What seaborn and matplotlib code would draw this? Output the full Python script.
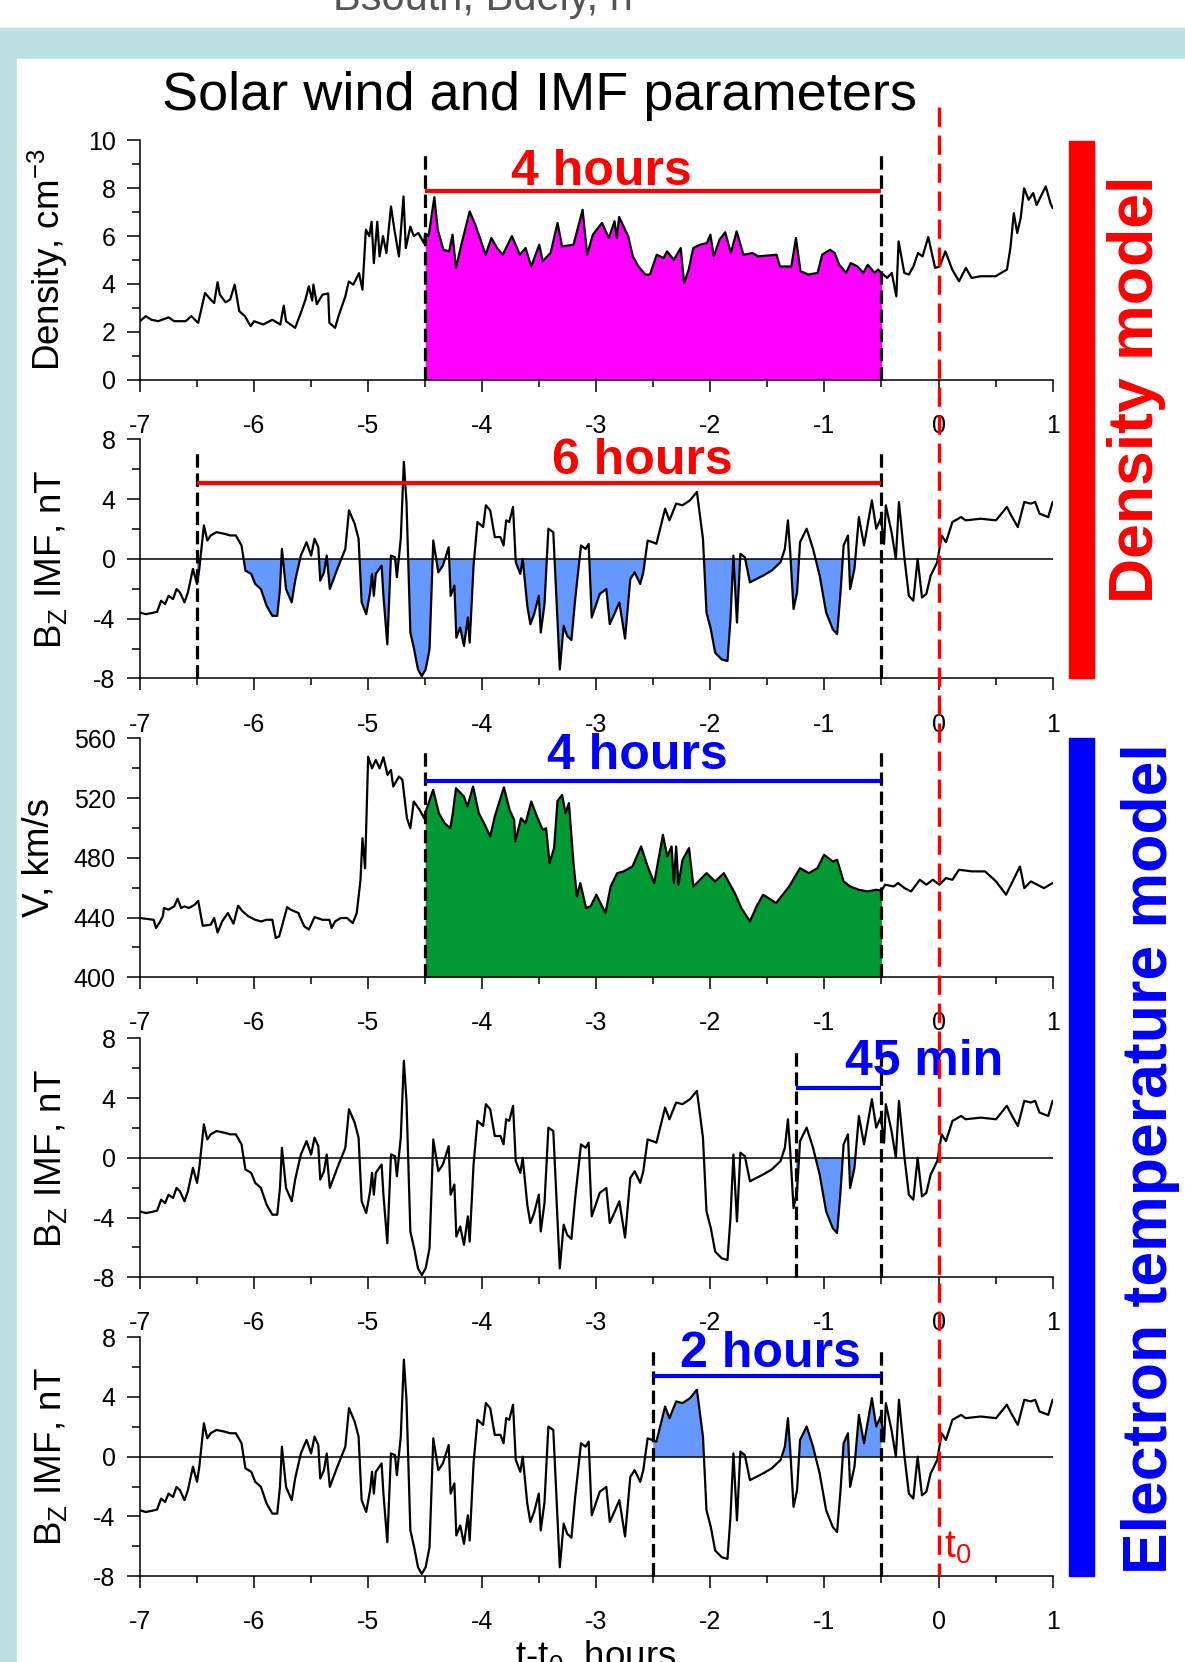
import numpy as np
import pandas as pd
import matplotlib
matplotlib.use("Agg")
import matplotlib.pyplot as plt
import seaborn as sns
from matplotlib.patches import Rectangle
from matplotlib.lines import Line2D
import matplotlib.transforms as mtransforms

# ---------------- data (hours relative to t0) ----------------
dens_t = [-7.00, -6.95, -6.90, -6.84, -6.75, -6.70, -6.60, -6.55, -6.49, -6.46, -6.43, -6.38, -6.35, -6.32,
          -6.30, -6.25, -6.21, -6.17, -6.13, -6.08, -6.03, -6.00, -5.92, -5.84, -5.77, -5.74, -5.72, -5.64,
          -5.59, -5.55, -5.52, -5.49, -5.48, -5.45, -5.40, -5.35, -5.34, -5.29, -5.26, -5.20, -5.17, -5.13,
          -5.08, -5.05, -5.02, -4.99, -4.97, -4.95, -4.92, -4.90, -4.87, -4.84, -4.80, -4.77, -4.73, -4.69,
          -4.67, -4.63, -4.60, -4.56, -4.51, -4.50, -4.47, -4.42, -4.39, -4.34, -4.29, -4.26, -4.23, -4.18,
          -4.11, -4.06, -3.97, -3.92, -3.87, -3.82, -3.74, -3.67, -3.62, -3.57, -3.50, -3.47, -3.40, -3.34,
          -3.30, -3.20, -3.15, -3.12, -3.08, -3.03, -2.95, -2.89, -2.84, -2.82, -2.80, -2.72, -2.68, -2.63,
          -2.57, -2.53, -2.47, -2.41, -2.38, -2.32, -2.26, -2.23, -2.19, -2.15, -2.09, -2.03, -2.00, -1.97,
          -1.92, -1.87, -1.82, -1.77, -1.71, -1.63, -1.58, -1.42, -1.39, -1.29, -1.25, -1.21, -1.14, -1.06,
          -1.02, -0.95, -0.91, -0.87, -0.81, -0.77, -0.71, -0.66, -0.62, -0.56, -0.53, -0.50, -0.45, -0.41,
          -0.37, -0.35, -0.30, -0.26, -0.22, -0.18, -0.14, -0.09, -0.03, 0.01, 0.06, 0.12, 0.18, 0.24,
          0.29, 0.37, 0.50, 0.60, 0.63, 0.66, 0.69, 0.72, 0.75, 0.79, 0.83, 0.86, 0.94, 0.98, 1.00]
dens_v = [2.44, 2.65, 2.50, 2.44, 2.60, 2.44, 2.44, 2.65, 2.37, 3.00, 3.62, 3.34, 3.20, 4.07,
          3.55, 3.23, 3.34, 3.97, 2.86, 2.65, 2.23, 2.44, 2.30, 2.50, 2.30, 3.09, 2.44, 2.16,
          2.79, 3.34, 3.90, 3.30, 3.97, 3.15, 3.55, 3.60, 2.37, 2.16, 2.65, 3.48, 4.10, 3.97,
          4.45, 3.76, 6.27, 6.00, 6.60, 4.87, 6.60, 5.15, 6.00, 5.29, 7.24, 6.27, 5.15, 7.66,
          5.50, 6.40, 6.00, 6.13, 5.70, 6.10, 6.00, 7.63, 6.27, 5.43, 5.36, 6.06, 4.67, 5.70,
          7.03, 6.47, 5.22, 5.92, 5.50, 5.22, 6.00, 5.22, 5.50, 4.73, 5.64, 4.95, 5.30, 6.55,
          5.57, 5.64, 6.55, 7.10, 5.22, 6.06, 6.55, 5.92, 6.62, 5.92, 6.80, 5.99, 5.15, 4.73,
          4.39, 4.39, 5.22, 5.08, 5.36, 5.01, 5.50, 4.04, 4.60, 5.50, 5.64, 5.71, 6.06, 5.15,
          5.85, 6.16, 5.29, 6.20, 5.22, 5.29, 5.15, 5.22, 4.73, 4.73, 5.92, 4.53, 4.39, 4.46,
          5.22, 5.43, 5.29, 4.80, 4.46, 4.87, 4.73, 4.46, 4.80, 4.46, 4.60, 4.46, 4.25, 4.46,
          3.48, 5.78, 4.46, 4.39, 4.73, 5.29, 5.15, 5.96, 4.67, 4.73, 5.36, 4.60, 4.11, 4.67,
          4.25, 4.32, 4.32, 4.60, 5.50, 6.96, 6.13, 6.75, 8.00, 7.52, 7.80, 7.30, 8.08, 7.40, 7.17]

vel_t = [-7.00, -6.88, -6.86, -6.83, -6.80, -6.79, -6.75, -6.70, -6.67, -6.64, -6.61, -6.57, -6.52, -6.49,
         -6.45, -6.38, -6.35, -6.32, -6.28, -6.23, -6.18, -6.14, -6.10, -6.05, -5.99, -5.94, -5.89, -5.84,
         -5.81, -5.78, -5.74, -5.71, -5.68, -5.61, -5.60, -5.56, -5.52, -5.47, -5.40, -5.34, -5.32, -5.29,
         -5.24, -5.185, -5.135, -5.10, -5.067, -5.05, -5.027, -5.00, -4.966, -4.933, -4.90, -4.866, -4.83,
         -4.80, -4.78, -4.73, -4.70, -4.66, -4.63, -4.60, -4.55, -4.51, -4.50, -4.43, -4.38, -4.33, -4.28,
         -4.26, -4.23, -4.16, -4.13, -4.08, -4.03, -3.97, -3.93, -3.89, -3.81, -3.76, -3.72, -3.71, -3.66,
         -3.62, -3.57, -3.52, -3.47, -3.44, -3.41, -3.37, -3.34, -3.30, -3.27, -3.24, -3.20, -3.17, -3.14,
         -3.09, -3.05, -3.00, -2.92, -2.874, -2.817, -2.76, -2.683, -2.607, -2.55, -2.492, -2.416, -2.378,
         -2.34, -2.32, -2.30, -2.28, -2.244, -2.187, -2.149, -2.09, -2.034, -1.958, -1.882, -1.786, -1.729,
         -1.653, -1.595, -1.538, -1.424, -1.309, -1.214, -1.137, -1.061, -1.004, -0.927, -0.889, -0.832,
         -0.775, -0.698, -0.622, -0.546, -0.50, -0.469, -0.393, -0.355, -0.298, -0.24, -0.164, -0.107,
         -0.05, 0.008, 0.065, 0.122, 0.179, 0.294, 0.408, 0.504, 0.592, 0.656, 0.714, 0.752, 0.809,
         0.866, 0.924, 1.00]
vel_v = [439.7, 438.5, 433.0, 436.5, 440.8, 446.4, 445.3, 447.5, 452.6, 446.4, 447.5, 446.4, 448.6, 451.2,
         434.5, 435.2, 439.7, 430.0, 437.4, 443.0, 435.9, 447.9, 444.1, 440.8, 438.5, 437.4, 438.5, 438.5,
         426.3, 427.4, 438.5, 447.0, 445.3, 443.0, 440.8, 434.1, 431.9, 440.3, 438.5, 438.5, 433.0, 437.4,
         439.7, 439.7, 436.3, 443.0, 465.3, 493.1, 473.0, 547.7, 539.9, 545.5, 539.9, 547.3, 535.5,
         538.8, 527.7, 534.4, 532.2, 506.5, 499.8, 517.7, 512.2, 506.5, 509.9, 525.5, 509.9, 503.2, 499.8,
         508.7, 526.6, 521.0, 514.3, 527.7, 509.9, 501.0, 494.3, 507.6, 527.2, 512.1, 505.4, 490.9, 506.5,
         503.2, 517.7, 507.6, 498.7, 499.8, 476.4, 486.5, 518.1, 522.1, 509.9, 516.6, 476.4, 454.2, 463.1,
         446.4, 447.5, 455.3, 443.0, 460.8, 469.7, 470.9, 474.2, 487.6, 474.2, 463.1, 495.4, 480.9,
         487.6, 463.1, 487.6, 461.9, 478.7, 486.5, 460.8, 465.3, 469.7, 464.2, 469.7, 456.4, 446.4,
         437.4, 447.5, 455.3, 449.7, 460.8, 473.1, 469.7, 473.1, 482.0, 477.5, 478.7, 464.2,
         460.8, 458.6, 457.5, 458.6, 458.0, 462.0, 460.8, 463.1, 459.7, 457.5, 465.3, 462.0,
         465.3, 462.0, 466.4, 465.3, 472.0, 470.9, 470.9, 464.2, 455.3, 465.3, 474.2, 459.7, 464.2,
         462.0, 459.7, 463.1]

bz_t = [-7.00, -6.95, -6.90, -6.85, -6.815, -6.78, -6.75, -6.71, -6.68, -6.65, -6.61, -6.58, -6.536, -6.50,
        -6.48, -6.44, -6.41, -6.38, -6.33, -6.26, -6.21, -6.16, -6.11, -6.076, -6.025, -5.99, -5.94, -5.89,
        -5.84, -5.797, -5.773, -5.756, -5.72, -5.67, -5.64, -5.59, -5.54, -5.50, -5.47, -5.437, -5.42,
        -5.387, -5.363, -5.336, -5.27, -5.235, -5.20, -5.168, -5.118, -5.084, -5.057, -5.017, -4.983,
        -4.966, -4.95, -4.933, -4.882, -4.866, -4.832, -4.80, -4.765, -4.748, -4.714, -4.687, -4.664,
        -4.63, -4.597, -4.563, -4.53, -4.496, -4.462, -4.429, -4.385, -4.345, -4.294, -4.277, -4.244,
        -4.227, -4.193, -4.16, -4.126, -4.11, -4.076, -4.042, -3.992, -3.968, -3.93, -3.89, -3.84, -3.813,
        -3.79, -3.763, -3.73, -3.706, -3.666, -3.645, -3.605, -3.578, -3.545, -3.504, -3.487, -3.454,
        -3.42, -3.377, -3.32, -3.286, -3.255, -3.218, -3.185, -3.134, -3.094, -3.067, -3.04, -2.97,
        -2.912, -2.882, -2.836, -2.798, -2.748, -2.702, -2.664, -2.615, -2.588, -2.55, -2.50, -2.473,
        -2.397, -2.359, -2.30, -2.244, -2.179, -2.118, -2.065, -2.034, -1.996, -1.958, -1.90, -1.85,
        -1.824, -1.798, -1.767, -1.737, -1.698, -1.653, -1.538, -1.462, -1.385, -1.347, -1.32, -1.30,
        -1.271, -1.25, -1.24, -1.214, -1.156, -1.10, -1.042, -0.985, -0.927, -0.889, -0.859, -0.832,
        -0.794, -0.775, -0.737, -0.698, -0.653, -0.584, -0.546, -0.508, -0.50, -0.477, -0.462, -0.412,
        -0.374, -0.347, -0.298, -0.26, -0.221, -0.183, -0.145, -0.107, -0.069, -0.011, 0.027, 0.065,
        0.122, 0.198, 0.237, 0.37, 0.504, 0.599, 0.637, 0.695, 0.752, 0.809, 0.847, 0.885, 0.962, 1.00]
bz_v = [-3.59, -3.70, -3.63, -3.54, -2.80, -3.03, -2.47, -2.69, -2.02, -2.24, -2.91, -2.24, -0.67, -1.68,
        -0.67, 2.24, 1.23, 1.57, 1.79, 1.68, 1.57, 1.57, 0.90, -0.78, -1.01, -1.68, -2.02, -3.14,
        -3.81, -3.81, -2.02, 0.67, -2.02, -2.91, -1.46, 0.22, 1.12, 0.22, 1.35, 0.78, -1.46,
        -0.90, 0.22, -2.02, -0.67, 0.00, 0.67, 3.25, 2.35, 1.35, -2.91, -3.70, -2.24,
        -1.01, -2.47, -1.01, -0.45, -2.47, -5.72, 0.22, 0.11, -1.23, 1.35, 6.50, 3.81,
        -4.93, -6.05, -7.40, -7.85, -7.40, -6.05, 1.23, -0.90, -0.45, 0.78, -2.47, -1.79,
        -5.27, -4.60, -5.83, -3.92, -5.61, -0.45, 2.47, 2.13, 3.59, 3.25, 1.46, 1.46, 0.90,
        2.58, 2.47, 3.48, -0.22, -1.01, 0.00, -3.14, -4.37, -3.70, -2.47, -4.93, -3.03,
        2.02, 1.79, -7.40, -4.48, -5.16, -5.43, -2.69, 0.90, 0.67, 1.01, -3.92, -2.35,
        -2.02, -4.37, -3.59, -2.91, -5.34, -1.35, -0.90, -1.68, -0.90, 1.23, 1.10, 1.01,
        3.36, 2.58, 3.70, 3.59, 3.92, 4.48, 1.35, -3.59, -4.71, -6.28, -6.73, -6.84,
        -4.04, 0.22, -4.26, 0.34, 0.11, -1.57, -1.12, -0.78, -0.22, 0.67, 2.58, 0.45,
        -3.36, -2.60, -2.24, 1.12, 2.02, 0.67, -1.12, -3.59, -4.71, -5.04, -2.24, 0.90,
        1.57, -2.02, -0.67, 2.80, 0.90, 3.92, 2.02, 2.69, 2.40, 1.01, 3.59, 1.79,
        0.00, 3.81, 0.00, -2.47, -2.80, 0.00, -2.58, -2.35, -1.12, -0.22, 1.57, 1.12,
        2.47, 2.80, 2.58, 2.69, 2.58, 3.48, 2.91, 2.13, 3.81, 3.70, 3.81, 3.03, 2.80, 3.81]

x_major = [-7, -6, -5, -4, -3, -2, -1, 0, 1]
x_minor = [-6.5, -5.5, -4.5, -3.5, -2.5, -1.5, -0.5, 0.5]
x_labels = ["-7", "-6", "-5", "-4", "-3", "-2", "-1", "0", "1"]
dens_ticks = [0, 2, 4, 6, 8, 10]
dens_minor = [1, 3, 5, 7, 9]
bz_ticks = [-8, -4, 0, 4, 8]
bz_minor = [-6, -2, 2, 6]
vel_ticks = [400, 440, 480, 520, 560]
vel_minor = [420, 460, 500, 540]

# windows (start, end) in hours
dens_win = (-4.5, -0.5)
bz6_win = (-6.5, -0.5)
vel_win = (-4.5, -0.5)
bz45_win = (-1.25, -0.5)
bz2_win = (-2.5, -0.5)

# ---------------- style ----------------
sns.set_theme(style="ticks")
plt.rcParams["font.family"] = ["Liberation Sans", "DejaVu Sans"]
plt.rcParams["mathtext.fontset"] = "custom"
plt.rcParams["mathtext.rm"] = "Liberation Sans"
plt.rcParams["mathtext.it"] = "Liberation Sans:italic"
plt.rcParams["mathtext.bf"] = "Liberation Sans:bold"
plt.rcParams["axes.unicode_minus"] = False
for k in ["xtick.color", "ytick.color", "axes.edgecolor", "text.color", "axes.labelcolor"]:
    plt.rcParams[k] = "black"

RED = "#ff0000"
BLUE = "#0000ff"
MAGENTA = "#ff00ff"
GREEN = "#009933"
LBLUE = "#6699ff"
BG = "#bde0e3"

W, H = 1185, 1662
fig = plt.figure(figsize=(W / 100, H / 100), dpi=100)
fig.patch.set_facecolor("white")

# background frame
fig.add_artist(Rectangle((0, 0), 1, 1 - 28 / H, transform=fig.transFigure, color=BG, zorder=-20))
fig.add_artist(Rectangle((17 / W, 0), 1 - 17 / W, 1 - 59 / H, transform=fig.transFigure,
                         color="white", zorder=-19))
fig.text(333 / W, 1 - 10 / H, "Bsouth, Bdely, h", fontsize=30, color="#555555",
         ha="left", va="baseline")

left = 140 / W
width = 912.6 / W
hgt = 239 / H
bottoms = [1 - 379.5 / H, 1 - 678.4 / H, 1 - 977.3 / H, 1 - 1277.3 / H, 1 - 1576.2 / H]
axes = [fig.add_axes([left, b, width, hgt]) for b in bottoms]

LW = 1.6


def style(ax, ylim, yt, ym, ylab, labx):
    ax.set_xlim(-7, 1)
    ax.set_ylim(*ylim)
    ax.set_xticks(x_major)
    ax.set_xticks(x_minor, minor=True)
    ax.set_xticklabels(x_labels)
    ax.set_yticks(yt)
    ax.set_yticks(ym, minor=True)
    ax.set_yticklabels([str(v) for v in yt])
    sns.despine(ax=ax)
    for s in ["left", "bottom"]:
        ax.spines[s].set_linewidth(1.1)
        ax.spines[s].set_color("black")
    ax.tick_params(axis="x", which="major", length=8.6, width=1.1, pad=16, labelsize=18)
    ax.tick_params(axis="x", which="minor", length=5, width=1.1)
    ax.tick_params(axis="y", which="major", length=9.6, width=1.1, pad=8, labelsize=18)
    ax.tick_params(axis="y", which="minor", length=5.5, width=1.1)
    ax.set_xlabel("")
    ax.set_ylabel("")
    ax.text(labx, 0.5, ylab, transform=ax.transAxes, rotation=90, ha="center", va="center",
            fontsize=26.5)
    ax.patch.set_alpha(0)


dt = np.array(dens_t); dv = np.array(dens_v)
vt = np.array(vel_t); vv = np.array(vel_v)
bt = np.array(bz_t); bv = np.array(bz_v)

dash_k = (4.2, 1.8)
DLW = 2.3

# ---- panel 1: density ----
ax = axes[0]
m = (dt >= dens_win[0]) & (dt <= dens_win[1])
ax.fill_between(dt[m], 0, dv[m], color=MAGENTA, lw=0, zorder=1)
sns.lineplot(x=dt, y=dv, ax=ax, color="black", lw=LW, estimator=None, sort=False, zorder=3)
for xv in dens_win:
    ax.plot([xv, xv], [0, 9.62], color="black", lw=DLW, dashes=dash_k, zorder=4, clip_on=False)
ax.plot(list(dens_win), [7.87, 7.87], color=RED, lw=3, solid_capstyle="butt", zorder=5)
ax.text(-2.96, 8.13, "4 hours", color=RED, fontsize=36, fontweight="bold", ha="center",
        va="baseline", zorder=6, clip_on=False)
style(ax, (0, 10), dens_ticks, dens_minor, r"Density, cm$^{\mathregular{-3}}$", -0.101)

# ---- panel 2: Bz, 6 hours ----
ax = axes[1]
ax.axhline(0, color="black", lw=1.1, zorder=2)
m = (bt >= bz6_win[0]) & (bt <= bz6_win[1])
ax.fill_between(bt[m], bv[m], 0, where=bv[m] < 0, interpolate=True, color=LBLUE, lw=0, zorder=1)
sns.lineplot(x=bt, y=bv, ax=ax, color="black", lw=LW, estimator=None, sort=False, zorder=3)
for xv in bz6_win:
    ax.plot([xv, xv], [-8, 7.33], color="black", lw=DLW, dashes=dash_k, zorder=4, clip_on=False)
ax.plot(list(bz6_win), [5.11, 5.11], color=RED, lw=3, solid_capstyle="butt", zorder=5)
ax.text(-2.6, 5.68, "6 hours", color=RED, fontsize=36, fontweight="bold", ha="center",
        va="baseline", zorder=6, clip_on=False)
style(ax, (-8, 8), bz_ticks, bz_minor, r"B$_{\mathregular{Z}}$ IMF, nT", -0.0975)

# ---- panel 3: V ----
ax = axes[2]
m = (vt >= vel_win[0]) & (vt <= vel_win[1])
ax.fill_between(vt[m], 400, vv[m], color=GREEN, lw=0, zorder=1)
sns.lineplot(x=vt, y=vv, ax=ax, color="black", lw=LW, estimator=None, sort=False, zorder=3)
for xv in vel_win:
    ax.plot([xv, xv], [400, 553.3], color="black", lw=DLW, dashes=dash_k, zorder=4, clip_on=False)
ax.plot(list(vel_win), [531.4, 531.4], color=BLUE, lw=3, solid_capstyle="butt", zorder=5)
ax.text(-2.64, 539.5, "4 hours", color=BLUE, fontsize=36, fontweight="bold", ha="center",
        va="baseline", zorder=6, clip_on=False)
style(ax, (400, 560), vel_ticks, vel_minor, "V, km/s", -0.1107)

# ---- panel 4: Bz, 45 min ----
ax = axes[3]
ax.axhline(0, color="black", lw=1.1, zorder=2)
m = (bt >= bz45_win[0]) & (bt <= bz45_win[1])
ax.fill_between(bt[m], bv[m], 0, where=bv[m] < 0, interpolate=True, color=LBLUE, lw=0, zorder=1)
sns.lineplot(x=bt, y=bv, ax=ax, color="black", lw=LW, estimator=None, sort=False, zorder=3)
for xv in bz45_win:
    ax.plot([xv, xv], [-8, 7.31], color="black", lw=DLW, dashes=dash_k, zorder=4, clip_on=False)
ax.plot(list(bz45_win), [4.66, 4.66], color=BLUE, lw=3, solid_capstyle="butt", zorder=5)
ax.text(-0.13, 5.52, "45 min", color=BLUE, fontsize=36, fontweight="bold", ha="center",
        va="baseline", zorder=6, clip_on=False)
style(ax, (-8, 8), bz_ticks, bz_minor, r"B$_{\mathregular{Z}}$ IMF, nT", -0.0975)

# ---- panel 5: Bz, 2 hours ----
ax = axes[4]
ax.axhline(0, color="black", lw=1.1, zorder=2)
m = (bt >= bz2_win[0]) & (bt <= bz2_win[1])
ax.fill_between(bt[m], 0, bv[m], where=bv[m] > 0, interpolate=True, color=LBLUE, lw=0, zorder=1)
sns.lineplot(x=bt, y=bv, ax=ax, color="black", lw=LW, estimator=None, sort=False, zorder=3)
for xv in bz2_win:
    ax.plot([xv, xv], [-8, 7.31], color="black", lw=DLW, dashes=dash_k, zorder=4, clip_on=False)
ax.plot(list(bz2_win), [5.39, 5.39], color=BLUE, lw=3, solid_capstyle="butt", zorder=5)
ax.text(-1.47, 5.98, "2 hours", color=BLUE, fontsize=36, fontweight="bold", ha="center",
        va="baseline", zorder=6, clip_on=False)
ax.text(0.047, -6.75, r"t$_{\mathregular{0}}$", color=RED, fontsize=28, ha="left",
        va="baseline", zorder=6)
style(ax, (-8, 8), bz_ticks, bz_minor, r"B$_{\mathregular{Z}}$ IMF, nT", -0.0975)

# ---- red dashed t0 line across all panels ----
tr = mtransforms.blended_transform_factory(axes[4].transData, fig.transFigure)
fig.add_artist(Line2D([0, 0], [1 - 107 / H, bottoms[4]], transform=tr, color=RED, lw=2.4,
                      dashes=(5.8, 2.6), zorder=10))

# ---- title & x label ----
fig.text(540 / W, 1 - 110 / H, "Solar wind and IMF parameters", fontsize=39, ha="center",
         va="baseline")
fig.text(596 / W, 1 - 1667 / H, r"t-t$_{\mathregular{0}}$, hours", fontsize=26.5, ha="center",
         va="baseline")

# ---- side bars and model labels ----
top1 = bottoms[0] + hgt
top3 = bottoms[2] + hgt
fig.add_artist(Rectangle((1069 / W, bottoms[1]), 25 / W, top1 - bottoms[1],
                         transform=fig.transFigure, color=RED, zorder=5))
fig.add_artist(Rectangle((1069 / W, bottoms[4]), 25 / W, top3 - bottoms[4],
                         transform=fig.transFigure, color=BLUE, zorder=5))
fig.text(1136 / W, 1 - 389 / H, "Density model", rotation=90, color=RED, fontsize=45,
         fontweight="bold", ha="center", va="center")
fig.text(1150 / W, 1 - 1159 / H, "Electron temperature model", rotation=90, color=BLUE,
         fontsize=45, fontweight="bold", ha="center", va="center")

fig.savefig("out.png", dpi=100, facecolor=fig.get_facecolor())
